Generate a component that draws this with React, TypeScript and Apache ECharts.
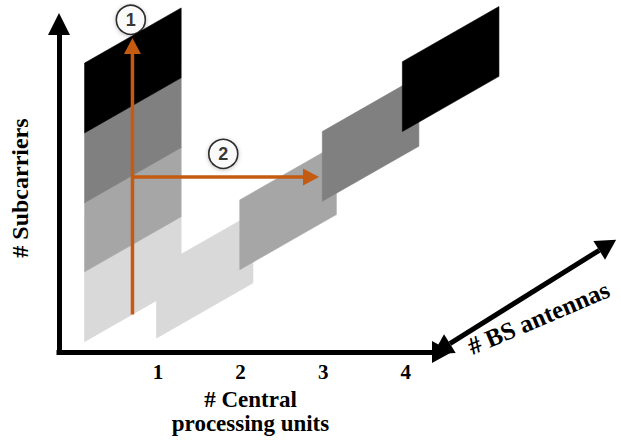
import React, { useEffect, useRef } from 'react';
import * as echarts from 'echarts';

// ---- data (axis units: x = central processing units, y = subcarrier blocks) ----
const cpuTicks = [1, 2, 3, 4];
const cpuTickLabels = ['1', '2', '3', '4'];
const shadeNames = ['light', 'medium', 'dark', 'black'];
// one CPU handles every subcarrier block (stacked column)
const stackedCpu = [0.11, 0.11, 0.11, 0.11];
const stackedLevel = [0.15, 1.15, 2.14, 3.14];
const stackedShade = [0, 1, 2, 3];
// blocks spread over CPUs / antennas
const spreadCpu = [0.98, 1.99, 2.99, 3.96];
const spreadLevel = [0.2, 1.18, 2.16, 3.16];
const spreadShade = [0, 1, 2, 3];
// orange annotation arrows
const arrowStartX = [0.69, 0.69];
const arrowStartY = [0.54, 2.51];
const arrowEndX = [0.69, 2.95];
const arrowEndY = [4.5, 2.51];
// numbered markers
const markerX = [0.67, 1.79];
const markerY = [4.76, 2.84];
const markerText = ['1', '2'];
// BS antennas axis (double arrow)
const antennaAxisX = [4.33, 6.55];
const antennaAxisY = [-0.03, 1.61];
const antennaAxisName = '# BS antennas';

// ---- style constants ----
const SHADES: Record<string, string> = {
  light: '#d9d9d9',
  medium: '#a6a6a6',
  dark: '#808080',
  black: '#000000',
};
const TILE_W = 1.17;
const TILE_H = 1.0;
const TILE_SLANT = 0.79;
const ORANGE = '#c55a11';
const SERIF = 'Liberation Serif';

function arrowHead(tip: number[], ux: number, uy: number, len: number, hw: number) {
  const bx = tip[0] - ux * len;
  const by = tip[1] - uy * len;
  return {
    base: [bx, by],
    points: [tip, [bx - uy * hw, by + ux * hw], [bx + uy * hw, by - ux * hw]],
  };
}

export default function App() {
  const ref = useRef<HTMLDivElement>(null);
  useEffect(() => {
    if (!ref.current) return;
    const chart = echarts.init(ref.current, undefined, { renderer: 'svg' });

    const tiles: any[] = [];
    stackedCpu.forEach((x, i) => tiles.push([x, stackedLevel[i], stackedShade[i]]));
    spreadCpu.forEach((x, i) => tiles.push([x, spreadLevel[i], spreadShade[i]]));

    const arrows = arrowStartX.map((x, i) => [x, arrowStartY[i], arrowEndX[i], arrowEndY[i]]);
    const markers = markerX.map((x, i) => [x, markerY[i], markerText[i]]);
    const antenna = [[antennaAxisX[0], antennaAxisY[0], antennaAxisX[1], antennaAxisY[1]]];

    const option: any = {
      animation: false,
      backgroundColor: '#ffffff',
      grid: { left: 57, right: 179, top: 24, bottom: 87, containLabel: false },
      xAxis: {
        type: 'value',
        min: -0.2,
        max: 4.44,
        splitLine: { show: false },
        axisTick: { show: false },
        axisLine: {
          show: true,
          onZero: false,
          symbol: ['none', 'triangle'],
          symbolSize: [22, 20],
          lineStyle: { color: '#000', width: 5, cap: 'square' },
        },
        axisLabel: {
          customValues: cpuTicks,
          formatter: (v: number) => cpuTickLabels[cpuTicks.indexOf(Math.round(v))] ?? '',
          fontFamily: SERIF,
          fontWeight: 'bold',
          fontSize: 21,
          color: '#000',
          margin: 9,
        },
        name: '# Central\nprocessing units',
        nameLocation: 'middle',
        nameGap: 27,
        nameTextStyle: {
          fontFamily: SERIF,
          fontWeight: 'bold',
          fontSize: 23,
          lineHeight: 24,
          color: '#000',
        },
      },
      yAxis: {
        type: 'value',
        min: 0,
        max: 4.7,
        splitLine: { show: false },
        axisTick: { show: false },
        axisLabel: { show: false },
        axisLine: {
          show: true,
          onZero: false,
          symbol: ['none', 'triangle'],
          symbolSize: [22, 22],
          lineStyle: { color: '#000', width: 5, cap: 'square' },
        },
        name: '# Subcarriers',
        nameLocation: 'middle',
        nameGap: 27,
        nameTextStyle: {
          fontFamily: SERIF,
          fontWeight: 'bold',
          fontSize: 24,
          color: '#000',
        },
      },
      series: [
        {
          type: 'custom',
          name: 'blocks',
          silent: true,
          clip: false,
          data: tiles,
          z: 2,
          renderItem: (_p: any, api: any) => {
            const x = api.value(0);
            const y = api.value(1);
            const color = SHADES[shadeNames[api.value(2)]];
            const pts = [
              api.coord([x, y]),
              api.coord([x, y + TILE_H]),
              api.coord([x + TILE_W, y + TILE_H + TILE_SLANT]),
              api.coord([x + TILE_W, y + TILE_SLANT]),
            ];
            return {
              type: 'polygon',
              shape: { points: pts },
              style: { fill: color, stroke: color, lineWidth: 0.6 },
            };
          },
        },
        {
          type: 'custom',
          name: 'steps',
          silent: true,
          clip: false,
          data: arrows,
          z: 3,
          renderItem: (_p: any, api: any) => {
            const a = api.coord([api.value(0), api.value(1)]);
            const b = api.coord([api.value(2), api.value(3)]);
            const dx = b[0] - a[0];
            const dy = b[1] - a[1];
            const len = Math.hypot(dx, dy);
            const ux = dx / len;
            const uy = dy / len;
            const head = arrowHead(b, ux, uy, 16, 8.5);
            return {
              type: 'group',
              children: [
                {
                  type: 'line',
                  shape: { x1: a[0], y1: a[1], x2: head.base[0] + ux, y2: head.base[1] + uy },
                  style: { stroke: ORANGE, lineWidth: 3.5 },
                },
                { type: 'polygon', shape: { points: head.points }, style: { fill: ORANGE } },
              ],
            };
          },
        },
        {
          type: 'custom',
          name: 'antennas',
          silent: true,
          clip: false,
          data: antenna,
          z: 3,
          renderItem: (_p: any, api: any) => {
            const a = api.coord([api.value(0), api.value(1)]);
            const b = api.coord([api.value(2), api.value(3)]);
            const dx = b[0] - a[0];
            const dy = b[1] - a[1];
            const len = Math.hypot(dx, dy);
            const ux = dx / len;
            const uy = dy / len;
            const h1 = arrowHead(b, ux, uy, 20, 11);
            const h0 = arrowHead(a, -ux, -uy, 20, 11);
            const mx = (a[0] + b[0]) / 2;
            const my = (a[1] + b[1]) / 2;
            return {
              type: 'group',
              children: [
                {
                  type: 'line',
                  shape: { x1: h0.base[0], y1: h0.base[1], x2: h1.base[0], y2: h1.base[1] },
                  style: { stroke: '#000', lineWidth: 5 },
                },
                { type: 'polygon', shape: { points: h1.points }, style: { fill: '#000' } },
                { type: 'polygon', shape: { points: h0.points }, style: { fill: '#000' } },
                {
                  type: 'text',
                  x: mx + 14,
                  y: my + 21,
                  rotation: (23 * Math.PI) / 180,
                  style: {
                    text: antennaAxisName,
                    fontFamily: SERIF,
                    fontWeight: 'bold',
                    fontSize: 25,
                    fill: '#000',
                    align: 'center',
                    verticalAlign: 'middle',
                  },
                },
              ],
            };
          },
        },
        {
          type: 'scatter',
          name: 'markers',
          silent: true,
          clip: false,
          z: 5,
          data: markers,
          symbol: 'circle',
          symbolSize: 29,
          itemStyle: {
            color: '#ffffff',
            borderColor: '#000',
            borderWidth: 1.6,
            shadowBlur: 4,
            shadowColor: 'rgba(0,0,0,0.3)',
            shadowOffsetY: 1,
          },
          label: {
            show: true,
            position: 'inside',
            formatter: (p: any) => p.value[2],
            fontFamily: 'Liberation Sans',
            fontWeight: 'bold',
            fontSize: 18,
            color: '#000',
            textBorderWidth: 0,
          },
        },
      ],
    };
    chart.setOption(option);
    return () => chart.dispose();
  }, []);

  return (
    <div
      ref={ref}
      style={{ position: 'fixed', left: 0, top: 0, width: 621, height: 440, background: '#fff' }}
    />
  );
}
